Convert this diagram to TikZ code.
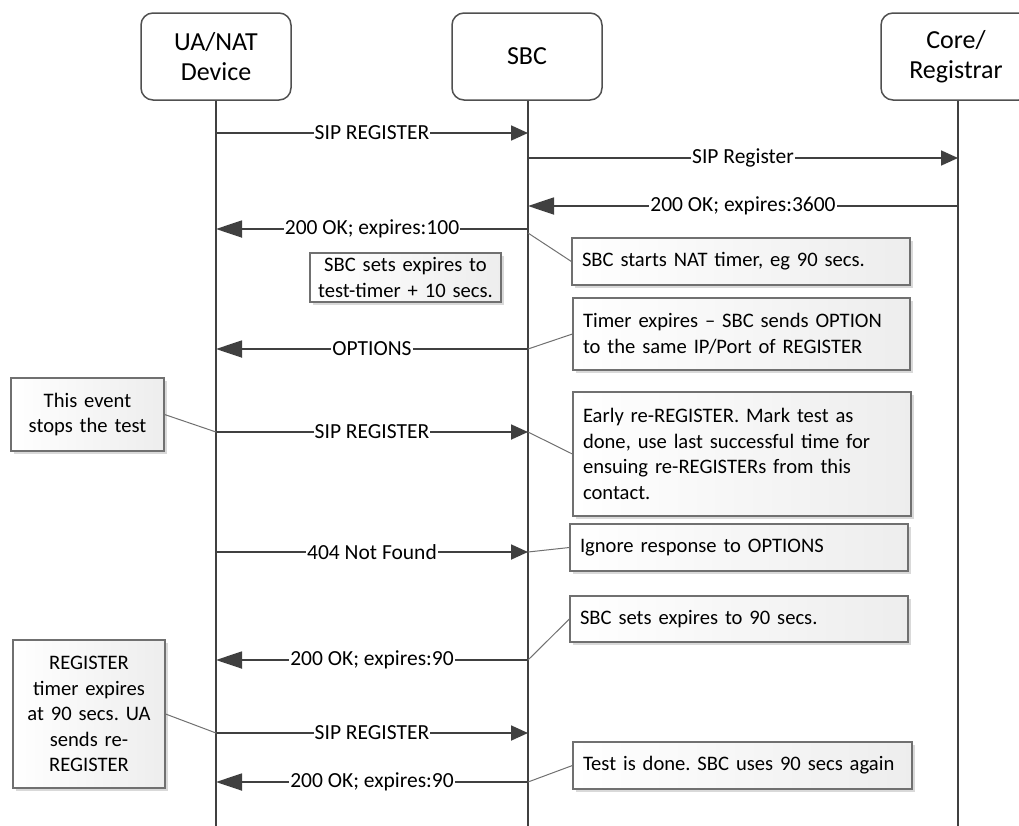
\documentclass[tikz,border=0pt]{standalone}
\usepackage{fontspec}
\setmainfont{Carlito}
\usetikzlibrary{arrows.meta,shadows}
\definecolor{ln}{HTML}{404040}
\definecolor{bd}{HTML}{707070}
\definecolor{hd}{HTML}{505050}
\frenchspacing
\begin{document}
\begin{tikzpicture}[x=1pt,y=-1pt,
  head/.style={draw=hd, line width=1.5pt, rounded corners=12pt, minimum width=150pt, minimum height=87pt, align=center, font=\fontsize{26}{30}\selectfont, fill=white},
  note/.style={draw=bd, line width=1.2pt, left color=white, right color=gray!14,
    drop shadow={shadow xshift=2.5pt, shadow yshift=-2.5pt, opacity=.3},
    font=\fontsize{20.6}{25.5}\selectfont, inner xsep=10pt, inner ysep=0pt},
  life/.style={draw=ln, line width=1.8pt},
  msg/.style={draw=ln, line width=1.8pt},
  rtip/.style={-{Triangle[length=17pt,width=15pt]}},
  ltip/.style={-{Triangle[length=26pt,width=17pt]}},
  lbl/.style={fill=white, inner sep=1pt, font=\fontsize{21.5}{21.5}\selectfont},
  callout/.style={draw=bd, line width=1pt}]
\useasboundingbox (0,0) rectangle (1019,825);

% headers
\node[head] (ua) at (216,56.5) {UA/NAT\\Device};
\node[head] (sbc) at (527,56.5) {SBC};
\node[head] (core) at (956,56.5) {Core/\\Registrar};

\coordinate (uaEnd) at (216,830);
\coordinate (sbcEnd) at (528,830);
\coordinate (coreEnd) at (958,830);
\draw[life] (ua.south -| uaEnd) -- (uaEnd);
\draw[life] (sbc.south -| sbcEnd) -- (sbcEnd);
\draw[life] (core.south -| coreEnd) -- (coreEnd);

% message end points
\coordinate (u1) at (216,133); \coordinate (s1) at (528,133);
\coordinate (s2) at (528,158); \coordinate (c2) at (958,158);
\coordinate (c3) at (958,206); \coordinate (s3) at (528,206);
\coordinate (s4) at (528,229); \coordinate (u4) at (216,229);
\coordinate (s5) at (528,349); \coordinate (u5) at (216,349);
\coordinate (u6) at (216,432); \coordinate (s6) at (528,432);
\coordinate (u7) at (216,552); \coordinate (s7) at (528,552);
\coordinate (s8) at (528,660); \coordinate (u8) at (216,660);
\coordinate (u9) at (216,733); \coordinate (s9) at (528,733);
\coordinate (s10) at (528,782); \coordinate (u10) at (216,782);

\draw[msg,rtip] (u1) -- node[lbl]{SIP REGISTER} (s1);
\draw[msg,rtip] (s2) -- node[lbl]{SIP Register} (c2);
\draw[msg,ltip] (c3) -- node[lbl]{200 OK; expires:3600} (s3);
\draw[msg,ltip] (s4) -- node[lbl]{200 OK; expires:100} (u4);
\draw[msg,ltip] (s5) -- node[lbl]{OPTIONS} (u5);
\draw[msg,rtip] (u6) -- node[lbl]{SIP REGISTER} (s6);
\draw[msg,rtip] (u7) -- node[lbl]{404 Not Found} (s7);
\draw[msg,ltip] (s8) -- node[lbl]{200 OK; expires:90} (u8);
\draw[msg,rtip] (u9) -- node[lbl]{SIP REGISTER} (s9);
\draw[msg,ltip] (s10) -- node[lbl]{200 OK; expires:90} (u10);

% notes
\node[note, minimum width=191pt, minimum height=49pt, text width=187pt, inner xsep=2pt, align=center] (n1) at (405.5,277.5) {SBC sets expires to\\test-timer + 10 secs.};
\node[note, minimum width=338pt, minimum height=47pt, text width=318pt, align=left] (n2) at (741,261.5) {SBC starts NAT timer, eg 90 secs.};
\node[note, minimum width=337pt, minimum height=72pt, text width=317pt, align=left] (n3) at (741.5,334) {Timer expires -- SBC sends OPTION\\to the same IP/Port of REGISTER};
\node[note, minimum width=338pt, minimum height=124pt, text width=318pt, align=left] (n4) at (742,454) {Early re-REGISTER. Mark test as\\done, use last successful time for\\ensuing re-REGISTERs from this\\contact.};
\node[note, minimum width=338pt, minimum height=47pt, text width=318pt, align=left] (n5) at (739,547.5) {Ignore response to OPTIONS};
\node[note, minimum width=338pt, minimum height=46pt, text width=318pt, align=left] (n6) at (739,619) {SBC sets expires to 90 secs.};
\node[note, minimum width=339pt, minimum height=47pt, text width=319pt, align=left] (n7) at (742.5,765.5) {Test is done. SBC uses 90 secs again};
\node[note, minimum width=153pt, minimum height=73pt, text width=133pt, align=center] (l1) at (87.5,414.5) {This event\\stops the test};
\node[note, minimum width=152pt, minimum height=148pt, text width=132pt, align=center] (l2) at (89,714) {REGISTER\\timer expires\\at 90 secs. UA\\sends re-\\REGISTER};

% callouts
\coordinate (k2) at (528,233);
\draw[callout] (k2) -- (n2.west);
\draw[callout] (s5) -- (n3.west);
\draw[callout] (s6) -- (n4.west);
\draw[callout] (s7) -- (n5.west);
\draw[callout] (s8) -- (n6.west);
\draw[callout] (s10) -- (n7.west);
\draw[callout] (u6) -- (l1.east);
\draw[callout] (u9) -- (l2.east);
\end{tikzpicture}
\end{document}
